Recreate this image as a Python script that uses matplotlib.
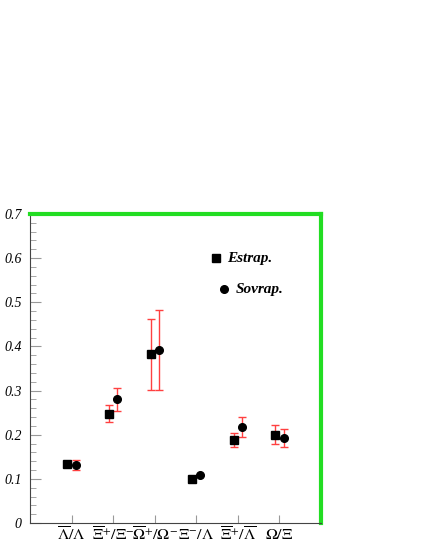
import numpy as np
import matplotlib
matplotlib.use("Agg")
from matplotlib import pyplot as plt

plt.rcParams['font.family'] = ['Liberation Serif', 'DejaVu Serif']
plt.rcParams['mathtext.fontset'] = 'stix'

# ratio labels
labels = [r'$\overline{\Lambda}/\Lambda$', r'$\overline{\Xi}^{+}/\Xi^{-}$', r'$\overline{\Omega}^{+}/\Omega^{-}$',
          r'$\Xi^{-}/\Lambda$', r'$\overline{\Xi}^{+}/\overline{\Lambda}$', r'$\Omega/\Xi$']
pos = np.arange(1, 7)

# Estrap. (squares)
estrap = [0.133, 0.248, 0.382, 0.100, 0.188, 0.200]
estrap_err = [0.005, 0.019, 0.081, 0.0, 0.016, 0.021]
# Sovrap. (circles)
sovrap = [0.131, 0.280, 0.392, 0.109, 0.217, 0.193]
sovrap_err = [0.011, 0.026, 0.091, 0.0, 0.023, 0.021]

fig = plt.figure(figsize=(4.25, 5.5), dpi=100)
ax = fig.add_axes([30/425, 27/550, 291/425, 309/550])

ax.errorbar(pos-0.1, estrap, yerr=estrap_err, fmt='none', ecolor='#ff4040', elinewidth=1, capsize=3, capthick=1)
ax.errorbar(pos+0.1, sovrap, yerr=sovrap_err, fmt='none', ecolor='#ff4040', elinewidth=1, capsize=3, capthick=1)
ax.plot(pos-0.1, estrap, 's', color='black', ms=5.5, zorder=3)
ax.plot(pos+0.1, sovrap, 'o', color='black', ms=5.5, zorder=3)

# legend
ax.plot([4.47], [0.60], 's', color='black', ms=5.5)
ax.text(4.73, 0.60, 'Estrap.', fontsize=11, style='italic', weight='bold', va='center')
ax.plot([4.67], [0.53], 'o', color='black', ms=5.5)
ax.text(4.95, 0.53, 'Sovrap.', fontsize=11, style='italic', weight='bold', va='center')

ax.set_xlim(0, 7)
ax.set_ylim(0, 0.7)
ax.set_xticks(pos)
ax.set_xticklabels(labels, fontsize=11.5)
ax.set_yticks(np.arange(0, 0.71, 0.1))
ax.set_yticklabels(['0', '0.1', '0.2', '0.3', '0.4', '0.5', '0.6', '0.7'], fontsize=10, style='italic')
ax.set_yticks(np.arange(0, 0.7, 0.02), minor=True)
ax.tick_params(axis='both', which='both', direction='in', color='#999999')
ax.tick_params(axis='y', which='major', length=8, pad=6)
ax.tick_params(axis='y', which='minor', length=4)
ax.tick_params(axis='x', which='major', length=6, pad=3)

for s in ['left', 'bottom']:
    ax.spines[s].set_color('#444444')
    ax.spines[s].set_linewidth(0.8)
for s in ['top', 'right']:
    ax.spines[s].set_color('#22dd22')
    ax.spines[s].set_linewidth(3)

fig.savefig('out.png', dpi=100)
